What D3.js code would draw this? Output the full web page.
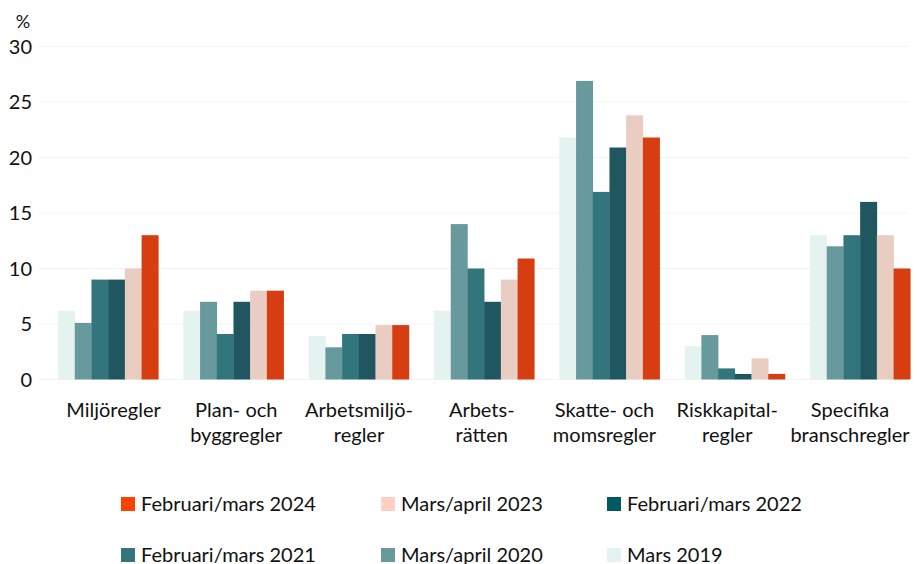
<!DOCTYPE html>
<html>
<head>
<meta charset="utf-8">
<script src="https://cdn.jsdelivr.net/npm/d3@7"></script>
<style>
  html, body { margin: 0; padding: 0; background: #fff; }
  svg { display: block; font-family: Lato, "Open Sans", sans-serif; }
</style>
</head>
<body>
<svg id="chart" width="917" height="564"></svg>
<script>
const categories = [
  ["Miljöregler"],
  ["Plan- och", "byggregler"],
  ["Arbetsmiljö-", "regler"],
  ["Arbets-", "rätten"],
  ["Skatte- och", "momsregler"],
  ["Riskkapital-", "regler"],
  ["Specifika", "branschregler"]
];
const seriesNames = ["Mars 2019", "Mars/april 2020", "Februari/mars 2021", "Februari/mars 2022", "Mars/april 2023", "Februari/mars 2024"];
const mars2019      = [6.2, 6.2, 3.9, 6.2, 21.8, 3.0, 13.0];
const marsApril2020 = [5.1, 7.0, 2.9, 14.0, 26.9, 4.0, 12.0];
const febMars2021   = [9.0, 4.1, 4.1, 10.0, 16.9, 1.0, 13.0];
const febMars2022   = [9.0, 7.0, 4.1, 7.0, 20.9, 0.5, 16.0];
const marsApril2023 = [10.0, 8.0, 4.9, 9.0, 23.8, 1.9, 13.0];
const febMars2024   = [13.0, 8.0, 4.9, 10.9, 21.8, 0.5, 10.0];
const yTicks = [0, 5, 10, 15, 20, 25, 30];
const legendOrder = ["Februari/mars 2024", "Mars/april 2023", "Februari/mars 2022", "Februari/mars 2021", "Mars/april 2020", "Mars 2019"];

const seriesValues = [mars2019, marsApril2020, febMars2021, febMars2022, marsApril2023, febMars2024];
const barColors = {
  "Mars 2019": "#e5f3f0",
  "Mars/april 2020": "#68999d",
  "Februari/mars 2021": "#33757c",
  "Februari/mars 2022": "#1f5660",
  "Mars/april 2023": "#eacdc2",
  "Februari/mars 2024": "#d63d10"
};
const legendColors = {
  "Mars 2019": "#e3f3ef",
  "Mars/april 2020": "#68999d",
  "Februari/mars 2021": "#33757c",
  "Februari/mars 2022": "#005a5f",
  "Mars/april 2023": "#ffcfc4",
  "Februari/mars 2024": "#f94200"
};

const svg = d3.select("#chart");
const catKeys = categories.map(c => c.join(" "));

const x = d3.scaleBand().domain(catKeys).range([45.5, 922.8]).paddingInner(0.2).paddingOuter(0.1);
const xs = d3.scaleBand().domain(seriesNames).range([0, x.bandwidth()]);
const y = d3.scaleLinear().domain([0, 30]).range([379.5, 46.5]);
const xLabel = d3.scalePoint().domain(catKeys).range([113.5, 850]);

// gridlines
svg.append("g").selectAll("line").data(yTicks).join("line")
  .attr("x1", 38).attr("x2", 908)
  .attr("y1", d => y(d)).attr("y2", d => y(d))
  .attr("stroke", "#f3f3f3").attr("stroke-width", 1.2);

// y tick labels
svg.append("g").selectAll("text").data(yTicks).join("text")
  .attr("x", 32).attr("y", d => y(d) + 7)
  .attr("text-anchor", "end")
  .attr("font-size", 20).attr("fill", "#111")
  .text(d => d);
svg.append("text").attr("x", 23).attr("y", 28).attr("text-anchor", "middle")
  .attr("font-size", 18).attr("fill", "#111").text("%");

// bars
const groups = svg.append("g").selectAll("g").data(catKeys).join("g")
  .attr("transform", d => `translate(${x(d)},0)`);
groups.selectAll("rect")
  .data((d, i) => seriesNames.map((s, j) => ({ s, v: seriesValues[j][i] })))
  .join("rect")
  .attr("x", d => xs(d.s))
  .attr("width", xs.bandwidth() + 0.3)
  .attr("y", d => y(d.v))
  .attr("height", d => y(0) - y(d.v))
  .attr("fill", d => barColors[d.s]);

// category labels
const lab = svg.append("g").selectAll("text").data(categories).join("text")
  .attr("x", (d, i) => xLabel(catKeys[i]))
  .attr("y", 417)
  .attr("text-anchor", "middle")
  .attr("font-size", 20).attr("fill", "#111");
lab.selectAll("tspan").data(d => d).join("tspan")
  .attr("x", function() { return d3.select(this.parentNode).attr("x"); })
  .attr("dy", (d, i) => i === 0 ? 0 : 25)
  .text(d => d);

// legend
const legCols = [121, 381, 607];
const legRows = [497, 548];
const leg = svg.append("g").selectAll("g").data(legendOrder).join("g")
  .attr("transform", (d, i) => `translate(${legCols[i % 3]},${legRows[Math.floor(i / 3)]})`);
leg.append("rect").attr("width", 14).attr("height", 14).attr("fill", d => legendColors[d]);
leg.append("text").attr("x", 20).attr("y", 14)
  .attr("font-size", 20).attr("fill", "#111").text(d => d);
</script>
</body>
</html>
